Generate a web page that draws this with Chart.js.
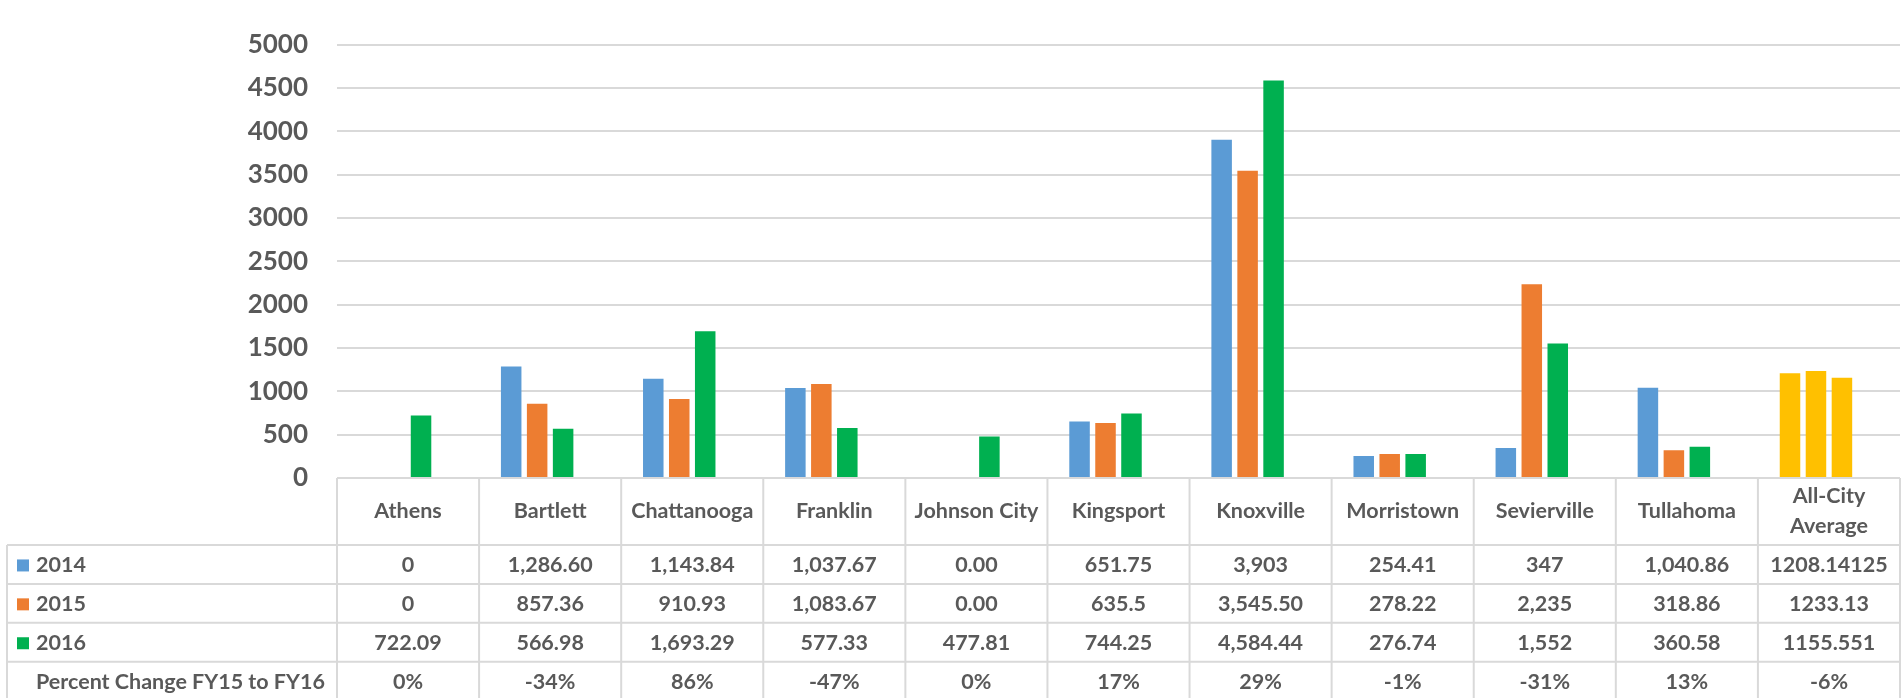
<!DOCTYPE html>
<html>
<head>
<meta charset="utf-8">
<title>Cost by City, FY14–FY16</title>
<script src="https://cdn.jsdelivr.net/npm/chart.js@4.4.1/dist/chart.umd.min.js"></script>
<style>
  html, body { margin: 0; padding: 0; background: #ffffff; overflow: hidden; }
  #wrap { width: 1904px; height: 698px; position: relative; }
  canvas { display: block; }
</style>
</head>
<body>
<div id="wrap"><canvas id="chart" width="1904" height="698"></canvas></div>
<script>
// ---- data ----
const cities = ['Athens', 'Bartlett', 'Chattanooga', 'Franklin', 'Johnson City', 'Kingsport',
  'Knoxville', 'Morristown', 'Sevierville', 'Tullahoma', ['All-City', 'Average']];

// values as shown in the data table; bar heights are parsed from these
const values2014 = ['0', '1,286.60', '1,143.84', '1,037.67', '0.00', '651.75', '3,903', '254.41', '347', '1,040.86', '1208.14125'];
const values2015 = ['0', '857.36', '910.93', '1,083.67', '0.00', '635.5', '3,545.50', '278.22', '2,235', '318.86', '1233.13'];
const values2016 = ['722.09', '566.98', '1,693.29', '577.33', '477.81', '744.25', '4,584.44', '276.74', '1,552', '360.58', '1155.551'];
const percentChange = ['0%', '-34%', '86%', '-47%', '0%', '17%', '29%', '-1%', '-31%', '13%', '-6%'];

const seriesNames = ['2014', '2015', '2016'];
const percentRowName = 'Percent Change FY15 to FY16';

const yMin = 0;
const yMax = 5000;
const yStep = 500;

// ---- styling ----
const FONT = 'Lato, "Open Sans", "Noto Sans", sans-serif';
const TEXT_COLOR = '#595959';
const LINE_COLOR = '#D9D9D9';
const seriesColors = ['#5B9BD5', '#ED7D31', '#00B050'];
const averageColor = '#FFC000';

const toNumber = s => parseFloat(s.replace(/,/g, ''));
const percentToNumber = s => parseFloat(s) / 100;

// table geometry (rows hang below the plot area)
const TABLE_LEFT = 7;
const HEADER_H = 67;
const ROW_H = 38.9;
const KEY_X = 17;
const KEY_SIZE = 12;
const ROW_TEXT_X = 36;
const TABLE_FONT_SIZE = 21.5;

const lastIndex = cities.length - 1;
const colorsFor = base => cities.map((c, i) => (i === lastIndex ? averageColor : base));

const datasets = [values2014, values2015, values2016].map((vals, k) => ({
  label: seriesNames[k],
  data: vals.map(toNumber),
  backgroundColor: colorsFor(seriesColors[k]),
  borderWidth: 0
}));
// the percent-change series sits in the same bar groups (values are fractions, so no visible height)
datasets.push({
  label: percentRowName,
  data: percentChange.map(percentToNumber),
  backgroundColor: 'rgba(0,0,0,0)',
  borderWidth: 0
});

const dataTable = {
  id: 'dataTable',
  afterDraw(chart) {
    const { ctx, chartArea: a } = chart;
    const xs = chart.scales.x;
    const n = cities.length;
    const colW = (a.right - a.left) / n;
    const top = a.bottom;
    const headerBottom = top + HEADER_H;
    const rowCount = 4;
    const bottom = headerBottom + rowCount * ROW_H;

    ctx.save();
    ctx.strokeStyle = LINE_COLOR;
    ctx.lineWidth = 2;
    const line = (x1, y1, x2, y2) => { ctx.beginPath(); ctx.moveTo(x1, y1); ctx.lineTo(x2, y2); ctx.stroke(); };

    line(a.left, top, a.right, top);
    for (let r = 0; r <= rowCount; r++) {
      const y = headerBottom + r * ROW_H;
      line(TABLE_LEFT, y, a.right, y);
    }
    for (let k = 0; k <= n; k++) {
      const x = a.left + k * colW;
      line(x, top, x, bottom);
    }
    line(TABLE_LEFT, headerBottom, TABLE_LEFT, bottom);

    ctx.fillStyle = TEXT_COLOR;
    ctx.font = 'bold ' + TABLE_FONT_SIZE + 'px ' + FONT;
    ctx.textAlign = 'center';
    ctx.textBaseline = 'middle';

    // category header
    const headerMid = (top + headerBottom) / 2;
    cities.forEach((c, i) => {
      const cx = xs.getPixelForValue(i);
      if (Array.isArray(c)) {
        const lh = 30;
        c.forEach((ln, j) => ctx.fillText(ln, cx, headerMid + (j - (c.length - 1) / 2) * lh));
      } else {
        ctx.fillText(c, cx, headerMid);
      }
    });

    // value rows
    const rows = [values2014, values2015, values2016, percentChange];
    const names = [...seriesNames, percentRowName];
    rows.forEach((vals, r) => {
      const mid = headerBottom + r * ROW_H + ROW_H / 2 + 1;
      vals.forEach((v, i) => {
        ctx.textAlign = 'center';
        ctx.fillText(v, xs.getPixelForValue(i), mid);
      });
      if (r < seriesColors.length) {
        ctx.fillStyle = seriesColors[r];
        ctx.fillRect(KEY_X, mid - KEY_SIZE / 2, KEY_SIZE, KEY_SIZE);
        ctx.fillStyle = TEXT_COLOR;
      }
      ctx.textAlign = 'left';
      ctx.fillText(names[r], ROW_TEXT_X, mid);
    });
    ctx.restore();
  }
};

function build() {
  new Chart(document.getElementById('chart'), {
    type: 'bar',
    data: { labels: cities, datasets },
    plugins: [dataTable],
    options: {
      responsive: false,
      animation: false,
      devicePixelRatio: 1,
      layout: { padding: { left: 0, right: 4, top: 23, bottom: 220 } },
      datasets: { bar: { categoryPercentage: 0.731, barPercentage: 0.79 } },
      plugins: { legend: { display: false }, tooltip: { enabled: false } },
      scales: {
        x: { display: false, offset: true },
        y: {
          min: yMin,
          max: yMax,
          border: { display: false },
          grid: { color: LINE_COLOR, lineWidth: 2, drawTicks: false },
          ticks: {
            stepSize: yStep,
            padding: 29,
            color: TEXT_COLOR,
            font: { family: FONT, size: 26, weight: 'bold' },
            callback: v => String(v)
          },
          afterFit(scale) { scale.width = 337; }
        }
      }
    }
  });
}

const fontLoads = ['bold 21.5px Lato', 'bold 26px Lato'].map(f => document.fonts.load(f).catch(() => null));
Promise.all(fontLoads).then(build, build);
</script>
</body>
</html>
